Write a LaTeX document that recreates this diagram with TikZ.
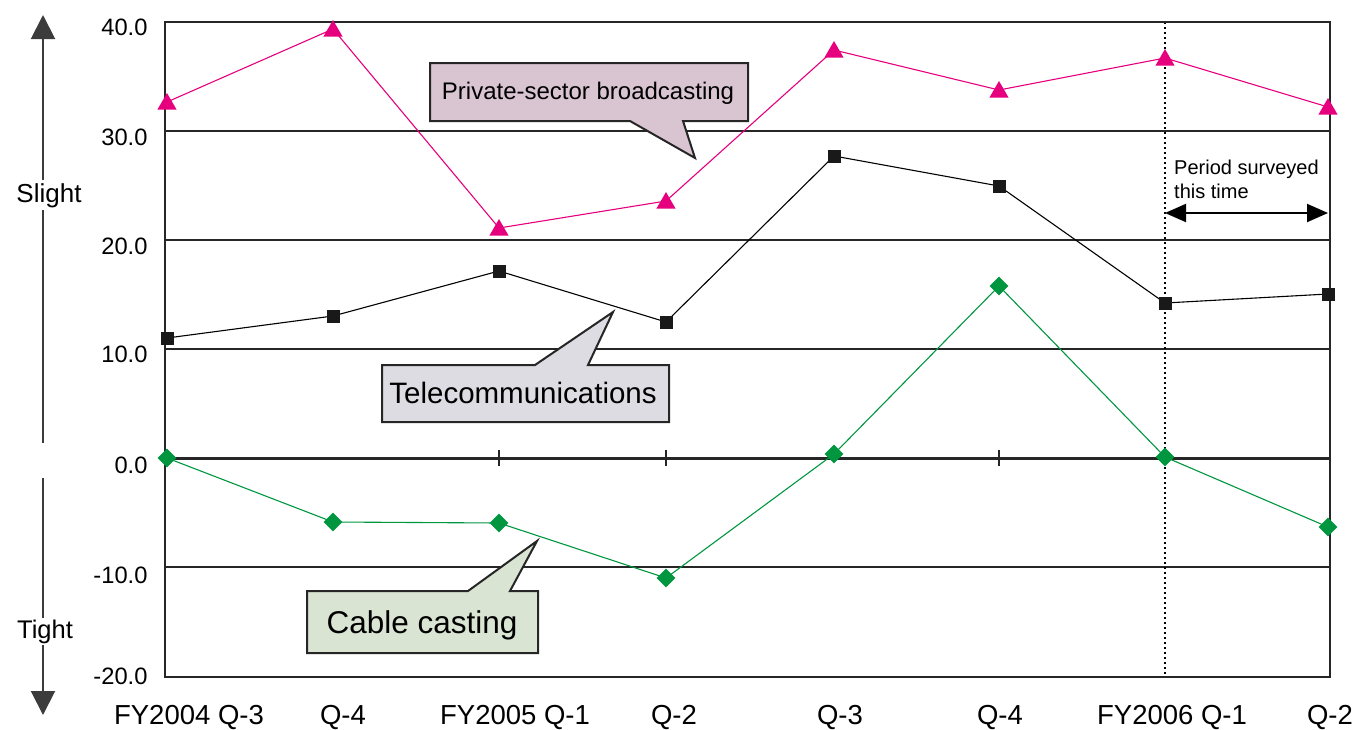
\documentclass[tikz,border=0pt]{standalone}
\usepackage{fontspec}
\setmainfont{Liberation Sans}
\usetikzlibrary{shapes.geometric,arrows.meta}
\definecolor{pinkline}{HTML}{E6007E}
\definecolor{greenline}{HTML}{009640}
\definecolor{calloutpink}{HTML}{D9C5D2}
\definecolor{calloutgray}{HTML}{DCDCE2}
\definecolor{calloutgreen}{HTML}{D9E4D2}
\definecolor{axisgray}{HTML}{3C3C3C}
\newcommand{\fs}[1]{\fontsize{#1}{#1}\selectfont}
\tikzset{
  grid line/.style={draw=black!85, line width=1.2pt},
  frame line/.style={draw=black!85, line width=2pt},
  series/.style={line width=1.1pt},
  tri mark/.style={regular polygon, regular polygon sides=3, fill=pinkline,
    inner sep=0pt, minimum size=22pt, yshift=-2pt},
  sq mark/.style={rectangle, fill=black!90, inner sep=0pt, minimum size=13pt},
  dia mark/.style={diamond, fill=greenline, inner sep=0pt, minimum size=19pt},
  ylab/.style={anchor=base east, font=\fs{23.7}},
  xlab/.style={anchor=base, font=\fs{27.5}},
  callout/.style={draw=black!85, line width=2pt, line join=miter},
  side arrow/.style={draw=axisgray, line width=2pt,
    -{Triangle[width=24pt,length=24pt]}},
}
\begin{document}
\begin{tikzpicture}[x=1pt, y=-1pt]
\useasboundingbox (0,0) rectangle (1368,729);

% horizontal grid
\foreach \yy in {131,240,349,567}
  \draw[grid line] (165,\yy) -- (1330,\yy);
\draw[draw=black!85, line width=3pt] (165,458) -- (1330,458);
\foreach \xx in {499,666,999}
  \draw[draw=black!85, line width=1.4pt] (\xx,450) -- (\xx,466);

% surveyed period marker
\draw[line width=2pt, dash pattern=on 2pt off 3pt] (1165,22) -- (1165,676);

% plot frame
\draw[frame line] (165,22) rectangle (1330,677);

% y axis labels
\node[ylab] (y40) at (151,35) {40.0};
\node[ylab] (y30) at (151,145) {30.0};
\node[ylab] (y20) at (151,254) {20.0};
\node[ylab] (y10) at (151,362) {10.0};
\node[ylab] (y0) at (151,473) {0.0};
\node[ylab] (ym10) at (151,583) {-10.0};
\node[ylab] (ym20) at (151,684) {-20.0};

% x axis labels
\node[xlab] (x1) at (189,724) {FY2004 Q-3};
\node[xlab] (x2) at (343,724) {Q-4};
\node[xlab] (x3) at (515,724) {FY2005 Q-1};
\node[xlab] (x4) at (674,724) {Q-2};
\node[xlab] (x5) at (840,724) {Q-3};
\node[xlab] (x6) at (1000,724) {Q-4};
\node[xlab] (x7) at (1172,724) {FY2006 Q-1};
\node[xlab] (x8) at (1330,724) {Q-2};

% side arrows
\coordinate (upstart) at (43,443);
\coordinate (uptip) at (43,15);
\coordinate (downstart) at (43,478);
\coordinate (downtip) at (43,715);
\draw[side arrow] (upstart) -- (uptip);
\draw[side arrow] (downstart) -- (downtip);
\node[fill=white, inner sep=3pt, anchor=base, font=\fs{26}] (slight) at (49,202) {Slight};
\node[fill=white, inner sep=2pt, anchor=base, font=\fs{25.5}] (tight) at (45,638) {Tight};

% data points
\foreach \n/\xx/\yy in {1/167/102,2/333/29,3/499/228,4/666/201,5/834/50,6/999/90,7/1165/58,8/1328/107}
  \coordinate (p\n) at (\xx,\yy);
\foreach \n/\xx/\yy in {1/167/338,2/333/316,3/499/271,4/666/322,5/834/156,6/999/186,7/1165/303,8/1328/294}
  \coordinate (t\n) at (\xx,\yy);
\foreach \n/\xx/\yy in {1/167/458,2/333/522,3/499/523,4/666/578,5/834/454,6/999/286,7/1165/457,8/1328/527}
  \coordinate (c\n) at (\xx,\yy);

% series lines
\draw[series, pinkline] (p1) -- (p2) -- (p3) -- (p4) -- (p5) -- (p6) -- (p7) -- (p8);
\draw[series, black] (t1) -- (t2) -- (t3) -- (t4) -- (t5) -- (t6) -- (t7) -- (t8);
\draw[series, greenline] (c1) -- (c2) -- (c3) -- (c4) -- (c5) -- (c6) -- (c7) -- (c8);

% markers
\foreach \n in {1,...,8} {
  \node[tri mark] (pm\n) at (p\n) {};
  \node[sq mark] (tm\n) at (t\n) {};
  \node[dia mark] (cm\n) at (c\n) {};
}

% period surveyed
\coordinate (perL) at (1165,213);
\coordinate (perR) at (1328,213);
\draw[line width=2pt, {Triangle[width=18pt,length=21pt]}-{Triangle[width=18pt,length=21pt]}] (perL) -- (perR);
\node[anchor=base west, align=left, inner sep=0pt, font=\fs{20}] (period) at (1174,198)
  {Period surveyed\\[4pt]this time};

% callouts
\draw[callout, fill=calloutpink] (430,63) -- (748,63) -- (748,121) -- (683,121)
  -- (695,158) coordinate (pktip) -- (630,121) -- (430,121) -- cycle;
\node[anchor=base, font=\fs{24}] (pklabel) at (588,99) {Private-sector broadcasting};

\draw[callout, fill=calloutgray] (382,365) -- (535,365) -- (613,312) coordinate (tctip)
  -- (588,365) -- (669,365) -- (669,422) -- (382,422) -- cycle;
\node[anchor=base, font=\fs{29.5}] (tclabel) at (523,403) {Telecommunications};

\draw[callout, fill=calloutgreen] (307,591) -- (468,591) -- (537,541) coordinate (cctip)
  -- (510,591) -- (538,591) -- (538,653) -- (307,653) -- cycle;
\node[anchor=base, font=\fs{31.5}] (cclabel) at (422,633) {Cable casting};
\end{tikzpicture}
\end{document}
